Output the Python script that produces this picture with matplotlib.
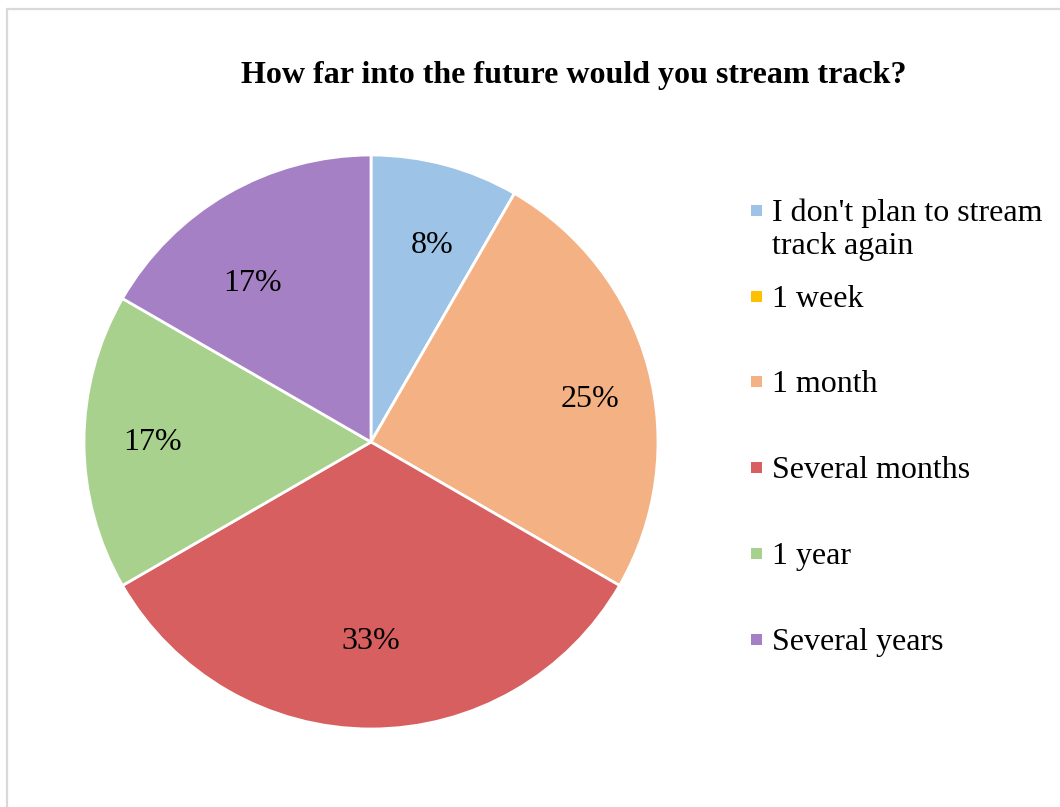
import numpy as np
import matplotlib.pyplot as plt
from matplotlib.patches import Rectangle

plt.rcParams['font.family'] = ['Liberation Serif', 'DejaVu Serif']

# survey answers (number of respondents)
answers = ["I don't plan to stream\ntrack again", "1 week", "1 month",
           "Several months", "1 year", "Several years"]
counts = [1, 0, 3, 4, 2, 2]
colors = ["#9DC3E6", "#FFC000", "#F4B183", "#D75F5F", "#A9D18E", "#A680C4"]
title = "How far into the future would you stream track?"

W, H = 1060, 807
fig = plt.figure(figsize=(W / 100, H / 100), dpi=100)

# light gray chart frame (runs off the right and bottom edges)
fig.patches.append(Rectangle((7 / W, -0.1), 1.2, 1 - 8.5 / H + 0.1,
                             transform=fig.transFigure, fill=False,
                             edgecolor="#D9D9D9", linewidth=1.6))

# pie axes: centre (371, 442) px, radius 287 px
cx, cy, r = 371, 442, 287
ax = fig.add_axes([(cx - r) / W, 1 - (cy + r) / H, 2 * r / W, 2 * r / H])


def pct_label(p):
    return "%.0f%%" % p if p > 0.5 else ""


wedges, texts, autotexts = ax.pie(
    counts, colors=colors, startangle=90, counterclock=False,
    autopct=pct_label, pctdistance=0.73, radius=1.0,
    wedgeprops=dict(edgecolor="white", linewidth=2.0),
    textprops=dict(fontsize=23, color="black"))

# best-fit placement of the percentage labels: distance from centre and
# a small turn away from each wedge's middle (degrees, clockwise)
label_dist = [0.73, 0.73, 0.78, 0.68, 0.76, 0.70]
label_turn = [2, 0, 3, 0, 1, -6]
for w, t, d, turn in zip(wedges, autotexts, label_dist, label_turn):
    mid = np.deg2rad((w.theta1 + w.theta2) / 2 - turn)
    t.set_position((d * np.cos(mid), d * np.sin(mid) - 0.015))

ax.set_xlim(-1, 1)
ax.set_ylim(-1, 1)
ax.set_aspect("equal")
ax.axis("off")

fig.text(574 / W, 1 - 75 / H, title, ha="center", va="center",
         fontsize=23, fontweight="bold")

# legend drawn as colour squares and labels down the right side
legend_y = [210, 296, 381, 467, 553, 639]
s = 11
for lab, col, y in zip(answers, colors, legend_y):
    fig.patches.append(Rectangle((751 / W, 1 - (y + s / 2) / H), s / W, s / H,
                                 transform=fig.transFigure, facecolor=col,
                                 edgecolor="none"))
    for i, line in enumerate(lab.split("\n")):
        fig.text(772 / W, 1 - (y + 11 + 33 * i) / H, line, ha="left",
                 va="baseline", fontsize=23)

fig.savefig("out.png", dpi=100)
